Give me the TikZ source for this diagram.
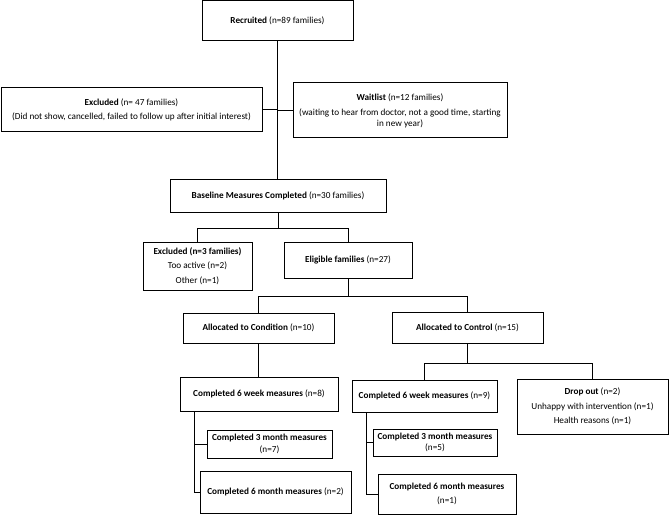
\documentclass[tikz,border=0pt]{standalone}
\usepackage{fontspec}
\setmainfont{Carlito}
\usepackage{tikz}

\newcommand{\boxfont}{\fontsize{9.2}{11.2}\selectfont}

\tikzset{
  box/.style = {draw, line width = 1pt, inner sep = 0pt, align = center, font = \boxfont},
  link/.style = {line width = 1pt}
}

\begin{document}
\begin{tikzpicture}[x = 1pt, y = -1pt]
        \useasboundingbox (0,0) rectangle (669,516);

        % screening
        \node [box, minimum width = 151, minimum height = 40] (recruited) at (277.5,21) {\textbf{Recruited} (n=89 families)};
        \node [box, minimum width = 261, minimum height = 44] (exclA) at (131.5,110)
            {\textbf{Excluded} (n= 47 families)\\[2.8pt] (Did not show, cancelled, failed to follow up after initial interest)};
        \node [box, minimum width = 214, minimum height = 55] (waitlist) at (400,110.5)
            {\textbf{Waitlist} (n=12 families)\\[3.8pt] (waiting to hear from doctor, not a good time, starting\\ in new year)};
        \node [box, minimum width = 216, minimum height = 33] (baseline) at (278,195.5) {\textbf{Baseline Measures Completed} (n=30 families)};

        \node [box, minimum width = 109, minimum height = 48] (exclB) at (197.5,266)
            {\textbf{Excluded (n=3 families)}\\[3.3pt] Too active (n=2)\\[3.3pt] Other (n=1)};
        \node [box, minimum width = 128, minimum height = 36] (eligible) at (348,260) {\textbf{Eligible families} (n=27)};

        % allocation
        \node [box, minimum width = 151, minimum height = 30] (condition) at (258.5,328) {\textbf{Allocated to Condition} (n=10)};
        \node [box, minimum width = 151, minimum height = 31] (control) at (467.5,327.5) {\textbf{Allocated to Control} (n=15)};

        % follow up
        \node [box, minimum width = 158, minimum height = 34] (cwk) at (259,394) {\textbf{Completed 6 week measures} (n=8)};
        \node [box, minimum width = 125, minimum height = 28] (cm3) at (269.5,444) {\textbf{Completed 3 month measures}\\ (n=7)};
        \node [box, minimum width = 151, minimum height = 42] (cm6) at (275.5,492) {\textbf{Completed 6 month measures} (n=2)};

        \node [box, minimum width = 145, minimum height = 32] (kwk) at (424.5,396) {\textbf{Completed 6 week measures} (n=9)};
        \node [box, minimum width = 124, minimum height = 27] (km3) at (435,442.5) {\textbf{Completed 3 month measures}\\ (n=5)};
        \node [box, minimum width = 138, minimum height = 40] (km6) at (447,494) {\textbf{Completed 6 month measures}\\[2.8pt] (n=1)};
        \node [box, minimum width = 151, minimum height = 55] (dropout) at (592.5,406.5)
            {\textbf{Drop out} (n=2)\\[3.3pt] Unhappy with intervention (n=1)\\[3.3pt] Health reasons (n=1)};

        \draw [link] (recruited.south) -- (recruited.south |- baseline.north);
        \draw [link] (exclA.east) -- (exclA.east -| recruited.south);
        \draw [link] (waitlist.west) -- (waitlist.west -| recruited.south);

        \draw [link] (baseline.south) -- ++(0,16) -| (exclB.north);
        \draw [link] (baseline.south) ++(0,16) -| (eligible.north);

        \draw [link] (eligible.south) -- ++(0,18) -| (condition.north);
        \draw [link] (eligible.south) ++(0,18) -| (control.north);

        \draw [link] (condition.south) -- (condition.south |- cwk.north);
        \draw [link] ([xshift = 15pt]cwk.south west) |- (cm3.west);
        \draw [link] ([xshift = 15pt]cwk.south west) |- (cm6.west);

        \draw [link] (control.south) -- ++(0,20) -| (kwk.north);
        \draw [link] (control.south) ++(0,20) -| (dropout.north);
        \draw [link] ([xshift = 15pt]kwk.south west) |- (km3.west);
        \draw [link] ([xshift = 15pt]kwk.south west) |- (km6.west);
\end{tikzpicture}
\end{document}
